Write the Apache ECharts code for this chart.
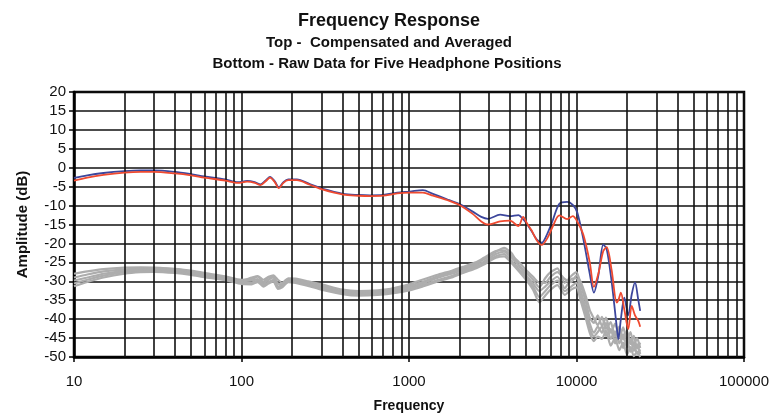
<!DOCTYPE html>
<html>
<head>
<meta charset="utf-8">
<script src="https://cdn.jsdelivr.net/npm/echarts@6/dist/echarts.min.js"></script>
<style>
html,body{margin:0;padding:0;background:#fff;}
#chart{width:783px;height:418px;}
</style>
</head>
<body>
<div id="chart"></div>
<script>
// Axis ticks
var xTicks = [10, 100, 1000, 10000, 100000];
var gridFreqs = [20,30,40,50,60,70,80,90,200,300,400,500,600,700,800,900,2000,3000,4000,5000,6000,7000,8000,9000,20000,30000,40000,50000,60000,70000,80000,90000];

// Top curves: compensated and averaged
var topFreq = [10,12,15,20,25,30,40,50,60,80,95,108,120,130,140,148,158,167,178,190,214,256,307,405,500,585,700,850,1010,1210,1390,1700,2010,2400,2700,2960,3500,4000,4500,4800,5050,5400,5800,6200,6700,7200,7900,8800,9500,10100,11000,12000,12700,13500,14450,15140,16200,17380,17780,18400,19300,20370,21360,22350,23400,24000];
var blueDb = [-2.7,-2.0,-1.4,-0.9,-0.7,-0.7,-1.1,-1.7,-2.3,-3.1,-3.8,-3.5,-3.8,-4.4,-3.3,-2.4,-3.6,-5.2,-3.8,-3.1,-3.1,-4.3,-5.6,-6.9,-7.2,-7.3,-7.2,-6.6,-6.3,-5.9,-6.9,-8.4,-9.6,-11.6,-13.0,-13.5,-12.4,-12.8,-12.5,-13.6,-14.8,-16.8,-19.0,-19.8,-17.4,-14.0,-9.5,-9.0,-9.8,-11.8,-19.0,-28.0,-33.0,-28.5,-20.3,-21.5,-30.0,-42.0,-45.3,-40.0,-34.3,-39.0,-33.5,-30.3,-35.0,-37.8];
var redDb = [-3.4,-2.6,-1.9,-1.3,-1.1,-1.1,-1.5,-2.0,-2.6,-3.4,-4.0,-3.7,-4.0,-4.6,-3.5,-2.6,-3.8,-5.4,-4.0,-3.3,-3.3,-4.5,-5.8,-7.1,-7.4,-7.5,-7.4,-6.8,-6.6,-6.6,-7.4,-8.6,-9.9,-12.2,-14.2,-15.0,-14.2,-14.0,-15.4,-13.0,-14.6,-16.6,-19.2,-20.4,-18.6,-15.6,-12.6,-13.6,-12.8,-14.2,-17.8,-25.0,-31.5,-28.0,-22.0,-21.0,-27.0,-35.6,-35.0,-33.0,-37.5,-42.6,-36.5,-39.0,-40.5,-42.0];

// Bottom curves: raw data for five headphone positions
var rawFreq = [10,12,15,20,25,30,40,50,60,80,100,115,125,135,145,155,165,175,190,210,250,300,400,500,650,850,1000,1200,1500,1800,2100,2500,2800,3300,3700,4100,4500,5000,5500,6000,6500,7000,7700,8500,9300,10000,10600,11300,12000,12700,13400,14200,15000,16000,17000,18000,19000,20000,21000,22000,23000,24000];
var raw1 = [-28.0,-27.4,-26.8,-26.4,-26.3,-26.4,-26.8,-27.4,-28.0,-28.9,
  -29.8,-29.0,-28.6,-29.6,-28.8,-28.4,-29.6,-30.4,-29.2,-29.3,
  -30.0,-30.8,-32.2,-32.6,-32.4,-31.8,-31.2,-30.2,-28.6,-27.6,
  -26.6,-25.4,-24.2,-22.2,-21.2,-22.6,-25.6,-27.6,-29.6,-31.6,
  -29.2,-27.6,-26.6,-30.4,-28.6,-27.6,-31.0,-35.0,-39.6,-41.0,
  -39.0,-41.8,-39.6,-43.6,-41.2,-44.8,-42.2,-45.6,-43.4,-46.8,
  -45.0,-47.6];
var raw2 = [-29.0,-28.2,-27.4,-26.9,-26.6,-26.5,-26.7,-27.2,-27.8,-28.7,
  -29.6,-29.4,-28.8,-30.2,-29.0,-28.8,-30.6,-30.8,-29.5,-29.6,
  -30.4,-31.2,-32.6,-33.0,-32.8,-31.6,-30.8,-29.6,-28.2,-27.2,
  -26.2,-25.0,-23.8,-22.0,-21.8,-23.2,-24.8,-27.0,-28.8,-30.4,
  -30.4,-28.8,-27.6,-29.4,-30.2,-28.4,-30.2,-33.6,-37.6,-39.8,
  -41.6,-39.4,-42.6,-40.8,-44.6,-42.0,-45.4,-43.0,-46.6,-44.4,
  -47.8,-46.2];
var raw3 = [-29.8,-29.0,-28.0,-27.3,-26.9,-26.8,-27.1,-27.6,-28.2,-29.1,
  -30.0,-29.8,-29.4,-30.6,-29.6,-29.0,-31.4,-31.0,-29.8,-29.8,
  -30.6,-31.6,-32.8,-33.3,-33.0,-32.2,-31.6,-30.6,-29.0,-28.0,
  -27.0,-25.8,-24.8,-22.8,-22.2,-23.8,-25.8,-28.4,-30.6,-32.6,
  -31.4,-30.0,-28.8,-31.8,-29.4,-29.2,-32.6,-36.8,-41.2,-43.6,
  -42.0,-43.6,-41.0,-45.2,-43.2,-46.4,-44.0,-47.4,-45.2,-48.4,
  -46.6,-49.2];
var raw4 = [-30.6,-29.6,-28.5,-27.6,-27.2,-27.1,-27.4,-27.9,-28.5,-29.4,
  -30.3,-30.4,-29.8,-31.0,-30.2,-29.6,-31.8,-31.4,-30.0,-30.1,
  -30.9,-31.9,-33.1,-33.6,-33.4,-32.6,-32.0,-31.0,-29.6,-28.6,
  -27.4,-26.2,-25.2,-23.4,-22.8,-24.6,-26.6,-29.0,-31.4,-34.2,
  -32.6,-31.0,-29.8,-32.6,-31.4,-30.4,-34.0,-38.2,-42.6,-44.6,
  -43.4,-42.0,-44.4,-42.6,-46.4,-44.0,-47.6,-45.4,-48.6,-46.6,
  -49.2,-48.0];
var raw5 = [-31.3,-30.2,-29.0,-28.0,-27.6,-27.5,-27.8,-28.3,-28.9,-29.7,
  -30.7,-30.8,-30.2,-31.4,-30.6,-30.0,-32.0,-31.6,-30.2,-30.4,
  -31.2,-32.2,-33.4,-33.8,-33.6,-33.0,-32.4,-31.4,-30.0,-29.0,
  -27.8,-26.6,-25.6,-23.8,-23.4,-25.2,-27.2,-29.6,-32.2,-35.6,
  -33.8,-32.2,-31.0,-33.6,-32.2,-31.6,-35.2,-39.4,-43.6,-45.8,
  -44.6,-45.2,-43.0,-47.0,-45.0,-48.2,-46.2,-49.4,-47.4,-49.8,
  -48.6,-50.0];
var rawSets = [raw1, raw2, raw3, raw4, raw5];

function pairs(xs, ys) {
  var out = [];
  for (var i = 0; i < xs.length; i++) out.push([xs[i], ys[i]]);
  return out;
}

var font = '"Liberation Sans", Arial, sans-serif';
var series = [];
series.push({
  type: 'line', data: [], z: 1, silent: true,
  markLine: {
    silent: true, symbol: ['none', 'none'], animation: false,
    label: { show: false },
    lineStyle: { color: '#111', width: 1.6, type: 'solid' },
    data: gridFreqs.map(function (f) { return { xAxis: f }; })
  }
});
rawSets.forEach(function (arr) {
  series.push({
    type: 'line', data: pairs(rawFreq, arr), showSymbol: false, smooth: 0.2, z: 3,
    lineStyle: { color: '#adadad', width: 2.2 }, itemStyle: { color: '#adadad' }
  });
});
series.push({
  type: 'line', data: pairs(topFreq, blueDb), showSymbol: false, smooth: 0.3, z: 4,
  lineStyle: { color: '#3c469c', width: 1.8 }
});
series.push({
  type: 'line', data: pairs(topFreq, redDb), showSymbol: false, smooth: 0.3, z: 5,
  lineStyle: { color: '#ef4a30', width: 1.8 }
});

var chart = echarts.init(document.getElementById('chart'), null, { renderer: 'canvas' });
chart.setOption({
  animation: false,
  backgroundColor: '#fff',
  title: [
    { text: 'Frequency Response', left: 384, top: 7, textAlign: 'center',
      textStyle: { fontFamily: font, fontSize: 18, fontWeight: 'bold', color: '#111' } },
    { text: 'Top -  Compensated and Averaged', left: 384, top: 30, textAlign: 'center',
      textStyle: { fontFamily: font, fontSize: 15, fontWeight: 'bold', color: '#111' } },
    { text: 'Bottom - Raw Data for Five Headphone Positions', left: 382, top: 51, textAlign: 'center',
      textStyle: { fontFamily: font, fontSize: 15, fontWeight: 'bold', color: '#111' } }
  ],
  grid: { left: 74, right: 39, top: 92, bottom: 60, show: true, borderColor: '#000', borderWidth: 2.5, backgroundColor: '#fff' },
  xAxis: {
    type: 'log', logBase: 10, min: xTicks[0], max: xTicks[xTicks.length - 1],
    name: 'Frequency', nameLocation: 'middle', nameGap: 42,
    nameTextStyle: { fontFamily: font, fontSize: 14, fontWeight: 'bold', color: '#111' },
    axisLine: { onZero: false, lineStyle: { color: '#000', width: 2.5 } },
    axisTick: { show: true, length: 5, lineStyle: { color: '#000', width: 1.5 } },
    axisLabel: { fontFamily: font, fontSize: 15, color: '#111', margin: 17,
      formatter: function (v) { return String(Math.round(v)); } },
    splitLine: { show: true, lineStyle: { color: '#111', width: 1.6 } },
    minorTick: { show: false }, minorSplitLine: { show: false }
  },
  yAxis: {
    type: 'value', min: -50, max: 20, interval: 5,
    name: 'Amplitude (dB)', nameLocation: 'middle', nameGap: 44, nameRotate: 90,
    nameTextStyle: { fontFamily: font, fontSize: 15, fontWeight: 'bold', color: '#111' },
    axisLine: { show: true, onZero: false, lineStyle: { color: '#000', width: 2.5 } },
    axisTick: { show: true, length: 5, lineStyle: { color: '#000', width: 1.5 } },
    axisLabel: { fontFamily: font, fontSize: 15, color: '#111', margin: 8 },
    splitLine: { show: true, lineStyle: { color: '#111', width: 1.6 } }
  },
  series: series
});
</script>
</body>
</html>
